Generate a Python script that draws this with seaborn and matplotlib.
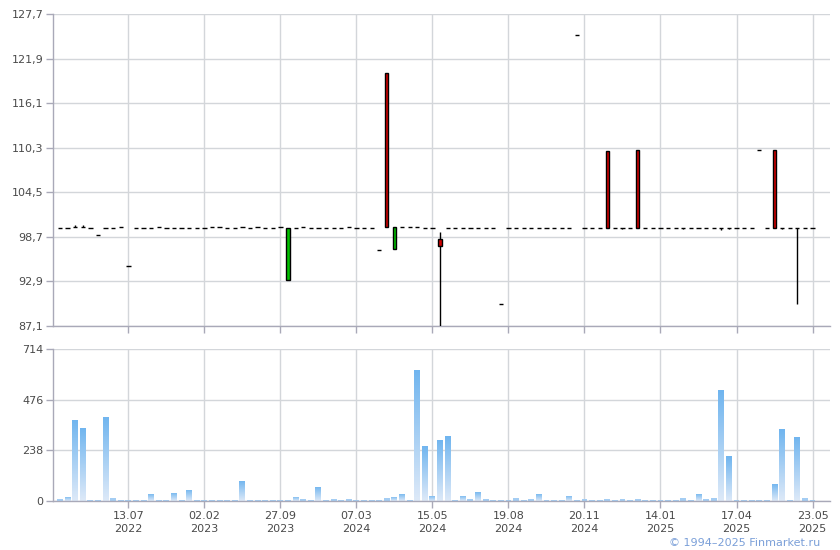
"""
plot.py

Candlestick price chart with a volume panel below (Finmarket style).
Saves the figure as out.png.
"""

import matplotlib

matplotlib.use("Agg")
import matplotlib.pyplot as plt
from matplotlib.ticker import FuncFormatter
import numpy as np
import pandas as pd
import seaborn as sns

# --- data ------------------------------------------------------------------
opens = [
    99.9, 99.9, 100.0, 100.0, 99.9, 99.0, 99.9, 99.9, 100.0, 94.9,
    99.9, 99.9, 99.9, 100.0, 99.9, 99.9, 99.9, 99.9, 99.9, 99.9,
    100.0, 100.0, 99.9, 99.9, 100.0, 99.9, 100.0, 99.9, 99.9, 100.0,
    99.8, 99.9, 100.0, 99.9, 99.9, 99.9, 99.9, 99.9, 100.0, 99.9,
    99.9, 99.8, 97.0, 100.0, 100.0, 100.0, 100.0, 100.0, 99.9, 99.8,
    97.5, 99.9, 99.9, 99.9, 99.9, 99.9, 99.9, 99.9, 89.9, 99.9,
    99.9, 99.8, 99.9, 99.9, 99.9, 99.9, 99.9, 99.9, 125.0, 99.9,
    99.8, 99.9, 99.9, 99.9, 99.9, 99.9, 99.9, 99.9, 99.9, 99.9,
    99.9, 99.8, 99.9, 99.9, 99.8, 99.9, 99.9, 99.8, 99.9, 99.9,
    99.9, 99.9, 110.0, 99.9, 99.9, 99.9, 99.8, 99.8, 99.8, 99.8,
]
closes = [
    99.9, 99.9, 100.0, 100.0, 99.9, 99.0, 99.9, 99.9, 100.0, 94.9,
    99.9, 99.9, 99.9, 100.0, 99.9, 99.9, 99.9, 99.9, 99.9, 99.9,
    100.0, 100.0, 99.9, 99.9, 100.0, 99.9, 100.0, 99.9, 99.9, 100.0,
    93.1, 99.9, 100.0, 99.9, 99.9, 99.9, 99.9, 99.9, 100.0, 99.9,
    99.9, 99.8, 97.0, 120.0, 97.1, 100.0, 100.0, 100.0, 99.9, 99.8,
    98.4, 99.9, 99.9, 99.9, 99.9, 99.9, 99.9, 99.9, 89.9, 99.9,
    99.9, 99.8, 99.9, 99.9, 99.9, 99.9, 99.9, 99.9, 125.0, 99.9,
    99.8, 99.9, 109.9, 99.9, 99.9, 99.9, 110.0, 99.9, 99.9, 99.9,
    99.9, 99.8, 99.9, 99.9, 99.8, 99.9, 99.9, 99.8, 99.9, 99.9,
    99.9, 99.9, 110.0, 99.9, 110.0, 99.9, 99.8, 99.8, 99.8, 99.8,
]
highs = [
    99.9, 99.9, 100.2, 100.2, 99.9, 99.0, 99.9, 99.9, 100.0, 94.9,
    99.9, 99.9, 99.9, 100.0, 99.9, 99.9, 99.9, 99.9, 99.9, 99.9,
    100.0, 100.0, 99.9, 99.9, 100.0, 99.9, 100.0, 99.9, 99.9, 100.0,
    99.8, 99.9, 100.0, 99.9, 99.9, 99.9, 99.9, 99.9, 100.0, 99.9,
    99.9, 99.8, 97.0, 120.0, 100.0, 100.0, 100.0, 100.0, 99.9, 99.8,
    99.3, 99.9, 99.9, 99.9, 99.9, 99.9, 99.9, 99.9, 89.9, 99.9,
    99.9, 99.8, 99.9, 99.9, 99.9, 99.9, 99.9, 99.9, 125.0, 99.9,
    99.8, 99.9, 109.9, 99.9, 99.9, 99.9, 110.0, 99.9, 99.9, 99.9,
    99.9, 99.8, 99.9, 99.9, 99.8, 99.9, 99.9, 99.8, 99.9, 99.9,
    99.9, 99.9, 110.0, 99.9, 110.0, 99.9, 99.8, 99.8, 99.8, 99.8,
]
lows = [
    99.9, 99.9, 100.0, 100.0, 99.9, 99.0, 99.9, 99.9, 100.0, 94.9,
    99.9, 99.9, 99.9, 100.0, 99.9, 99.9, 99.9, 99.9, 99.9, 99.9,
    100.0, 100.0, 99.9, 99.9, 100.0, 99.9, 100.0, 99.9, 99.9, 100.0,
    93.1, 99.9, 100.0, 99.9, 99.9, 99.9, 99.9, 99.9, 100.0, 99.9,
    99.9, 99.8, 97.0, 100.0, 97.1, 100.0, 100.0, 100.0, 99.9, 99.8,
    87.1, 99.9, 99.9, 99.9, 99.9, 99.9, 99.9, 99.9, 89.9, 99.9,
    99.9, 99.8, 99.9, 99.9, 99.9, 99.9, 99.9, 99.9, 125.0, 99.9,
    99.8, 99.9, 99.9, 99.9, 99.7, 99.9, 99.9, 99.9, 99.9, 99.9,
    99.9, 99.8, 99.7, 99.9, 99.8, 99.9, 99.9, 99.6, 99.7, 99.9,
    99.9, 99.9, 110.0, 99.9, 99.9, 99.7, 99.8, 89.9, 99.8, 99.8,
]
volumes = [
    9, 20, 382, 344, 6, 6, 396, 16, 6, 6,
    6, 6, 34, 6, 6, 39, 6, 53, 6, 6,
    6, 6, 6, 6, 95, 6, 6, 6, 6, 6,
    6, 20, 11, 6, 67, 6, 11, 6, 11, 6,
    6, 6, 6, 16, 20, 34, 6, 617, 260, 25,
    288, 305, 6, 25, 11, 44, 11, 6, 6, 6,
    16, 6, 11, 34, 6, 6, 6, 25, 6, 11,
    6, 6, 11, 6, 11, 6, 11, 6, 6, 6,
    6, 6, 16, 6, 34, 11, 16, 521, 211, 6,
    6, 6, 6, 6, 80, 338, 6, 301, 16, 6,
]

tick_positions = [9, 19, 29, 39, 49, 59, 69, 79, 89, 99]
tick_labels = [
    "13.07\n2022", "02.02\n2023", "27.09\n2023", "07.03\n2024", "15.05\n2024",
    "19.08\n2024", "20.11\n2024", "14.01\n2025", "17.04\n2025", "23.05\n2025",
]
price_ticks = [87.1, 92.9, 98.7, 104.5, 110.3, 116.1, 121.9, 127.7]
volume_ticks = [0, 238, 476, 714]

# --- styling -----------------------------------------------------------------
GRID = "#d3d6da"
SPINE = "#a9a9b8"
LABEL = "#4a4a4a"
UP = "#d00000"
DOWN = "#00c000"

sns.set_theme(style="whitegrid", rc={
    "grid.color": GRID,
    "grid.linewidth": 1.0,
    "axes.edgecolor": SPINE,
    "xtick.color": SPINE,
    "ytick.color": SPINE,
    "xtick.labelcolor": LABEL,
    "ytick.labelcolor": LABEL,
    "xtick.bottom": True,
    "ytick.left": True,
    "xtick.major.size": 5,
    "ytick.major.size": 5,
})
plt.rcParams["font.family"] = ["DejaVu Sans"]

df = pd.DataFrame({
    "idx": np.arange(len(closes)),
    "open": opens, "high": highs, "low": lows, "close": closes,
    "volume": volumes,
})

XMIN, XMAX = -0.92, 101.3

fig = plt.figure(figsize=(8.4, 5.5), dpi=100)
ax1 = fig.add_axes([53 / 840, 1 - 326 / 550, 777 / 840, 312 / 550])
ax2 = fig.add_axes([53 / 840, 1 - 501 / 550, 777 / 840, 152 / 550])

# --- price panel -------------------------------------------------------------
doji = df[df["open"] == df["close"]]
body = df[df["open"] != df["close"]]
wick = df[(df["high"] > df[["open", "close"]].max(axis=1)) |
          (df["low"] < df[["open", "close"]].min(axis=1))]

ax1.vlines(wick["idx"], wick["low"], wick["high"], color="black", lw=1, zorder=3)
ax1.hlines(doji["close"], doji["idx"] - 0.28, doji["idx"] + 0.28,
           color="black", lw=1.0, zorder=4)
body_colors = np.where(body["close"] > body["open"], UP, DOWN)
ax1.bar(body["idx"], body["close"] - body["open"], bottom=body["open"],
        width=0.42, color=body_colors, edgecolor="black", linewidth=1, zorder=4)

ax1.set_xlim(XMIN, XMAX)
ax1.set_ylim(price_ticks[0], price_ticks[-1])
ax1.set_yticks(price_ticks)
ax1.yaxis.set_major_formatter(FuncFormatter(lambda v, _: f"{v:.1f}".replace(".", ",")))
ax1.set_xticks(tick_positions)
ax1.set_xticklabels([])

# --- volume panel ------------------------------------------------------------
sns.barplot(data=df, x="idx", y="volume", ax=ax2, width=0.78,
            color="#a4cdf3", saturation=1, errorbar=None)

gradient = np.linspace(0, 1, 64).reshape(-1, 1)
cmap = matplotlib.colors.LinearSegmentedColormap.from_list(
    "vol", ["#70b5ef", "#dde9f8"])
for patch in ax2.patches:
    x0, y0 = patch.get_x(), patch.get_y()
    w, h = patch.get_width(), patch.get_height()
    patch.set_edgecolor("none")
    if h < 20:
        continue  # tiny bars: keep the flat light-blue fill
    patch.set_facecolor("none")
    img = ax2.imshow(gradient, cmap=cmap, aspect="auto",
                     extent=[x0, x0 + w, y0, y0 + h], origin="upper", zorder=2)
    img.set_clip_path(patch)

ax2.set_xlim(XMIN, XMAX)
ax2.set_ylim(0, volume_ticks[-1])
ax2.set_yticks(volume_ticks)
ax2.set_xticks(tick_positions)
ax2.set_xticklabels(tick_labels, linespacing=1.35)
ax2.set_xlabel("")
ax2.set_ylabel("")

for ax in (ax1, ax2):
    ax.set_axisbelow(True)
    ax.grid(True, color=GRID, lw=1)
    for side in ("top", "right"):
        ax.spines[side].set_visible(False)
    for side in ("left", "bottom"):
        ax.spines[side].set_color(SPINE)
        ax.spines[side].set_linewidth(1)
    ax.tick_params(axis="both", labelsize=8, pad=2, width=1)
    ax.set_facecolor("white")

fig.text(820 / 840, 1 - 543 / 550, "\u00a9 1994\u20132025 Finmarket.ru",
         ha="right", va="center", fontsize=8, color="#7a9fd8")

fig.savefig("out.png", dpi=100, facecolor="white")
plt.close(fig)
